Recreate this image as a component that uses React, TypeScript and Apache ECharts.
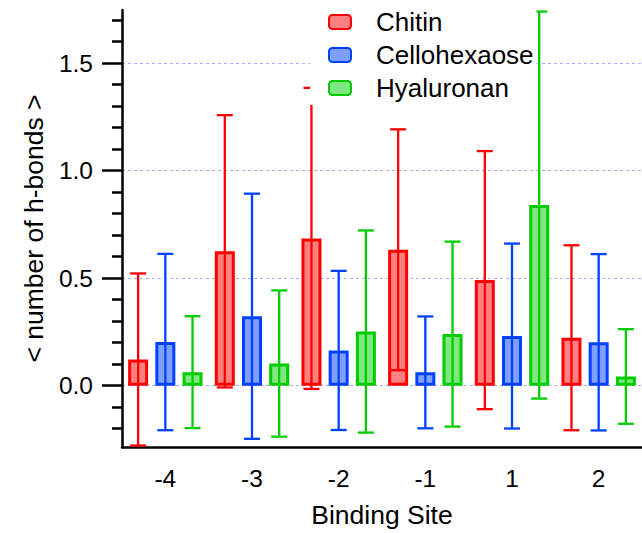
import React, { useEffect, useRef } from "react";
import * as echarts from "echarts";

const categories = ["-4", "-3", "-2", "-1", "1", "2"];
const seriesNames = ["Chitin", "Cellohexaose", "Hyaluronan"];
const chitinMean = [0.122, 0.625, 0.685, 0.632, 0.491, 0.223];
const chitinErr = [0.4, 0.633, 0.7, 0.56, 0.6, 0.43];
const celloMean = [0.203, 0.323, 0.164, 0.062, 0.231, 0.202];
const celloErr = [0.41, 0.57, 0.37, 0.26, 0.43, 0.41];
const hyalMean = [0.063, 0.103, 0.252, 0.24, 0.84, 0.043];
const hyalErr = [0.26, 0.34, 0.47, 0.43, 0.9, 0.22];
const majorTicks = [0, 0.5, 1.0, 1.5];
const minorTicks = [-0.2, -0.1, 0.1, 0.2, 0.3, 0.4, 0.6, 0.7, 0.8, 0.9, 1.1, 1.2, 1.3, 1.4, 1.6, 1.7];
const yMin = -0.285;
const yMax = 1.747;

const strokes = ["#ff0000", "#0040ff", "#00cc00"];
const fills = ["#ff8080", "#80a0ff", "#80e680"];
const FONT = "'Liberation Sans', Arial, sans-serif";
const BAR_W = 20;
const BAR_GAP = 0.36;

export default function App() {
  const ref = useRef<HTMLDivElement>(null);
  useEffect(() => {
    if (!ref.current) return;
    const chart = echarts.init(ref.current, null, { renderer: "svg" });
    const means = [chitinMean, celloMean, hyalMean];
    const errs = [chitinErr, celloErr, hyalErr];
    const barSeries = seriesNames.map((name, k) => ({
      name,
      type: "bar",
      data: means[k],
      barWidth: BAR_W,
      barGap: BAR_GAP * 100 + "%",
      z: 2,
      itemStyle: { color: fills[k], borderColor: strokes[k], borderWidth: 3 },
    }));
    const errSeries = seriesNames.map((name, k) => ({
      name: name + " error",
      type: "custom",
      z: 3,
      encode: { x: 0, y: [1, 2] },
      data: means[k].map((m, i) => [i, m - errs[k][i], m + errs[k][i]]),
      renderItem: (params: any, api: any) => {
        const idx = api.value(0);
        const lo = api.coord([idx, api.value(1)]);
        const hi = api.coord([idx, api.value(2)]);
        const x = lo[0] + (k - 1) * BAR_W * (1 + BAR_GAP);
        const capHalf = 8;
        const st = { stroke: strokes[k], lineWidth: 2.3 };
        return {
          type: "group",
          children: [
            { type: "line", shape: { x1: x, y1: hi[1], x2: x, y2: lo[1] }, style: st },
            { type: "line", shape: { x1: x - capHalf, y1: hi[1], x2: x + capHalf, y2: hi[1] }, style: st },
            { type: "line", shape: { x1: x - capHalf, y1: lo[1], x2: x + capHalf, y2: lo[1] }, style: st },
          ],
        };
      },
    }));
    const option: any = {
      animation: false,
      textStyle: { fontFamily: FONT },
      grid: { left: 122, right: -4, top: 10, bottom: 78, containLabel: false },
      legend: {
        data: seriesNames,
        orient: "vertical",
        left: 310,
        top: 0,
        padding: [9, 3, 4, 18],
        itemWidth: 22,
        itemHeight: 14,
        itemGap: 7,
        backgroundColor: "#ffffff",
        z: 10,
        textStyle: { fontSize: 26, lineHeight: 26, color: "#000", fontFamily: FONT, padding: [0, 0, 0, 20] },
      },
      xAxis: {
        type: "category",
        data: categories,
        boundaryGap: true,
        axisLine: { onZero: false, lineStyle: { color: "#000", width: 2.5 } },
        axisTick: { length: 20, lineStyle: { color: "#000", width: 2.5 } },
        axisLabel: { fontSize: 24.5, color: "#000", margin: 19, fontFamily: FONT },
        name: "Binding Site",
        nameLocation: "middle",
        nameGap: 54,
        nameTextStyle: { fontSize: 26.5, color: "#000", fontFamily: FONT },
      },
      yAxis: [
        {
          type: "value",
          min: yMin,
          max: yMax,
          position: "left",
          axisLine: { show: true, lineStyle: { color: "#000", width: 2.5 } },
          axisTick: { show: true, length: 20, customValues: majorTicks, lineStyle: { color: "#000", width: 2.5 } },
          axisLabel: {
            customValues: majorTicks,
            formatter: (v: number) => v.toFixed(1),
            fontSize: 24.5,
            color: "#000",
            margin: 29,
            fontFamily: FONT,
          },
          splitLine: { show: true, lineStyle: { type: [3, 3], color: "#a8a8ff", width: 1 } },
          name: "< number of h-bonds >",
          nameLocation: "middle",
          nameGap: 75,
          nameTextStyle: { fontSize: 26.5, color: "#000", fontFamily: FONT },
        },
        {
          type: "value",
          min: yMin,
          max: yMax,
          position: "left",
          offset: 0,
          axisLine: { show: false },
          axisTick: { show: true, length: 10, customValues: minorTicks, lineStyle: { color: "#000", width: 2.5 } },
          axisLabel: { show: false },
          splitLine: { show: false },
        },
      ],
      series: [...barSeries, ...errSeries],
    };
    chart.setOption(option);
    return () => chart.dispose();
  }, []);
  return (
    <div
      ref={ref}
      style={{ position: "fixed", left: 0, top: 0, width: 642, height: 533, background: "#fff" }}
    />
  );
}
